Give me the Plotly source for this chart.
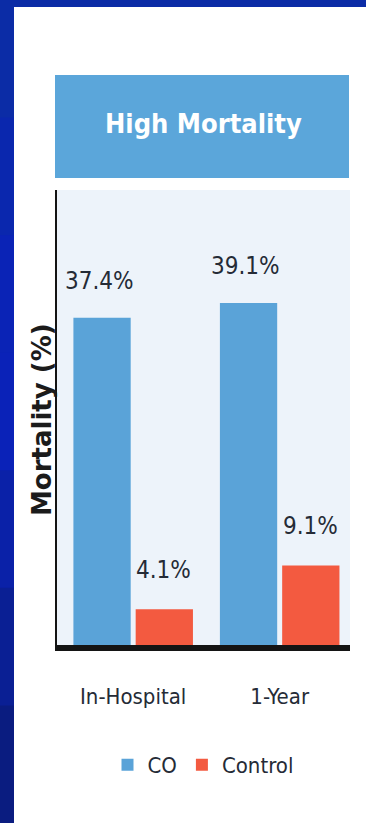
import plotly.graph_objects as go

# Data
categories = ["In-Hospital", "1-Year"]
co_values = [37.4, 39.1]
control_values = [4.1, 9.1]
series_names = ["CO", "Control"]
title_text = "High Mortality"
y_title = "Mortality (%)"

W, H = 366, 823
ML, MR, MT, MB = 57, 16, 190, 178
PW = W - ML - MR
PH = H - MT - MB

BLUE = "#5aa3d8"
RED = "#f35a40"
TEXT = "#252b36"
NARROW = "DejaVu Sans Condensed, Liberation Sans Narrow, sans-serif"


def px(x):
    return (x - ML) / PW


def py(y):
    return (H - MB - y) / PH


fig = go.Figure()
fig.add_trace(go.Bar(name=series_names[0], x=categories, y=co_values,
                     marker=dict(color=BLUE, line=dict(width=0))))
fig.add_trace(go.Bar(name=series_names[1], x=categories, y=control_values,
                     marker=dict(color=RED, line=dict(width=0))))

# value labels above each bar
annotations = []
for i, v in enumerate(co_values):
    annotations.append(dict(x=i - 0.23, y=v, xref="x", yref="y", text=f"{v}%",
                            showarrow=False, yshift=37, yanchor="middle",
                            xanchor="center",
                            font=dict(family=NARROW, size=24, color=TEXT)))
for i, v in enumerate(control_values):
    annotations.append(dict(x=i + 0.21, y=v, xref="x", yref="y", text=f"{v}%",
                            showarrow=False, yshift=39, yanchor="middle",
                            xanchor="center",
                            font=dict(family=NARROW, size=24, color=TEXT)))

# header title
annotations.append(dict(x=px(203), y=py(123), xref="paper", yref="paper",
                        xanchor="center", yanchor="middle",
                        text=f"<b>{title_text}</b>", showarrow=False,
                        font=dict(family=NARROW, size=27, color="white")))
# rotated y-axis title
annotations.append(dict(x=px(42), y=py(420), xref="paper", yref="paper",
                        xanchor="center", yanchor="middle",
                        text=f"<b>{y_title}</b>", showarrow=False, textangle=-90,
                        font=dict(family="DejaVu Sans, sans-serif", size=26,
                                  color="#1b1b1b")))

shapes = []
# blue frame with a soft vertical gradient
frame = ["#0b2ca6", "#0a27ae", "#0a23b6", "#0a22b8", "#0a21a8", "#0a1f94", "#0a1c80"]
step = H / len(frame)
for k, c in enumerate(frame):
    shapes.append(dict(type="rect", xref="paper", yref="paper",
                       x0=px(0), x1=px(W), y0=py(k * step), y1=py((k + 1) * step + 1),
                       fillcolor=c, line=dict(width=0), layer="below"))
# white slide panel
shapes.append(dict(type="rect", xref="paper", yref="paper",
                   x0=px(14), x1=px(W), y0=py(7), y1=py(H),
                   fillcolor="white", line=dict(width=0), layer="below"))
# header band
shapes.append(dict(type="rect", xref="paper", yref="paper",
                   x0=px(55), x1=px(349), y0=py(75), y1=py(178),
                   fillcolor="#5ba6da", line=dict(width=0), layer="below"))
# plot area tint
shapes.append(dict(type="rect", xref="paper", yref="paper",
                   x0=px(57), x1=px(350), y0=py(190), y1=py(H - MB),
                   fillcolor="#edf3fa", line=dict(width=0), layer="below"))

fig.update_layout(
    width=W, height=H,
    margin=dict(l=ML, r=MR, t=MT, b=MB, pad=0),
    paper_bgcolor="white",
    plot_bgcolor="rgba(0,0,0,0)",
    barmode="group",
    bargap=0.15,
    bargroupgap=0.08,
    showlegend=True,
    legend=dict(orientation="h", x=px(203), xanchor="center",
                y=py(765), yanchor="middle",
                font=dict(family=NARROW, size=22, color=TEXT),
                itemwidth=30, tracegroupgap=0,
                bgcolor="rgba(0,0,0,0)"),
    annotations=annotations,
    shapes=shapes,
    xaxis=dict(range=[-0.52, 1.48], showline=True, linewidth=6, linecolor="#141414",
               ticks="", ticklabelstandoff=27,
               tickfont=dict(family=NARROW, size=22, color=TEXT),
               showgrid=False, zeroline=False, fixedrange=True),
    yaxis=dict(range=[0, 52], showline=True, linewidth=2, linecolor="#141414",
               showticklabels=False, ticks="", showgrid=False, zeroline=False,
               fixedrange=True),
)

fig.write_html("out.html", config={"displayModeBar": False})
